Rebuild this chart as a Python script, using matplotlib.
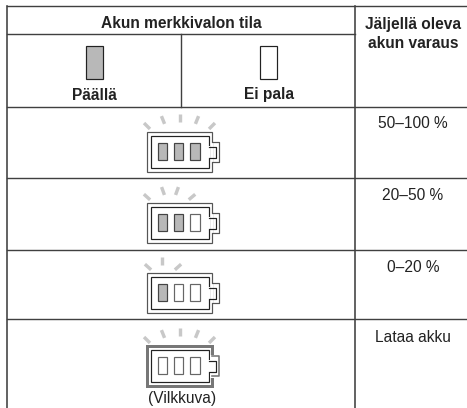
#!/usr/bin/env python3
"""Battery indicator table (Finnish), redrawn in pixel coordinates."""

import math

import matplotlib

matplotlib.use("Agg")
import matplotlib.pyplot as plt
from matplotlib.patches import Rectangle

WIDTH, HEIGHT = 467, 408

plt.rcParams["font.family"] = ["Liberation Sans", "DejaVu Sans"]

header_left = "Akun merkkivalon tila"
header_right = ["Jäljellä oleva", "akun varaus"]
legend_labels = ["Päällä", "Ei pala"]
charge_labels = ["50–100 %", "20–50 %", "0–20 %", "Lataa akku"]
lit_cells = [3, 2, 1, 0]
ray_counts = [5, 4, 3, 5]
blink_note = "(Vilkkuva)"

LINE = "#404040"
DARK = "#222222"
FILL = "#b8b8b8"
RAY = "#c8c8c8"
TEXT = "#222222"
FONT = 11.2
PX = 0.72  # one pixel in points at dpi 100

left, right = 7, 467
col1, col2 = 181, 355
row_lines = [6, 34, 106.5, 178, 250, 319]
battery_tops = [132, 203, 273, 346]
charge_y = [123, 195, 267, 337]
# rays as (x, y above battery top, tilt in degrees)
ray_fans = {
    5: [(147, 6, -45), (163, 12, -22), (180, 14, 0), (197, 12, 22), (212, 6, 45)],
    4: [(147, 6, -48), (163, 12, -20), (177, 12, 20), (192, 6, 50)],
    3: [(148, 6, -48), (162, 12, 0), (178, 6, 48)],
}


def draw_battery(ax, top, lit, rays, blinking):
    x0, x1 = 147, 212
    h = 39.5
    outer_col = "#777777" if blinking else "#555555"
    outer_w = 3 * PX if blinking else 1.2 * PX
    ax.add_patch(Rectangle((x0, top), x1 - x0, h, fc="white", ec=outer_col, lw=outer_w))
    ax.add_patch(Rectangle((x0 + 3.5, top + 4), x1 - x0 - 7, h - 8, fc="white", ec=DARK, lw=1.2 * PX))
    # open both outlines where the terminal sits
    ax.plot([x1, x1], [top + 10.5, top + 29.5], color="white", lw=4 * PX if blinking else 2 * PX)
    ax.plot([x1 - 3.5, x1 - 3.5], [top + 14.5, top + 25.5], color="white", lw=2 * PX)
    ax.plot(
        [x1, x1 + 7, x1 + 7, x1],
        [top + 10, top + 10, top + 30, top + 30],
        color=outer_col, lw=1.6 * PX if blinking else 1.2 * PX,
    )
    ax.plot(
        [x1 - 3.5, x1 + 3.5, x1 + 3.5, x1 - 3.5],
        [top + 14.5, top + 14.5, top + 25.5, top + 25.5],
        color=DARK, lw=1.2 * PX,
    )
    for i in range(3):
        fc = FILL if i < lit else "white"
        ec = "#444444" if i < lit else "#666666"
        ax.add_patch(Rectangle((157.5 + i * 16.3, top + 11), 9.5, 16.5, fc=fc, ec=ec, lw=1.2 * PX))
    half = 4.2
    for x, above, tilt in ray_fans[rays]:
        t = math.radians(tilt)
        dx, dy = half * math.sin(t), half * math.cos(t)
        y = top - above
        ax.plot([x - dx, x + dx], [y + dy, y - dy], color=RAY, lw=3.4 * PX, solid_capstyle="butt")


fig = plt.figure(figsize=(WIDTH / 100, HEIGHT / 100), dpi=100)
ax = fig.add_axes([0, 0, 1, 1])
ax.set_xlim(0, WIDTH)
ax.set_ylim(HEIGHT, 0)
ax.axis("off")

# grid
for y in row_lines:
    x_end = col2 if y == row_lines[1] else right
    ax.plot([left, x_end], [y, y], color=LINE, lw=1.4 * PX)
ax.plot([left, left], [row_lines[0], HEIGHT], color=LINE, lw=1.6 * PX)
ax.plot([col2, col2], [row_lines[0], HEIGHT], color=LINE, lw=1.6 * PX)
ax.plot([col1, col1], [row_lines[1], row_lines[2]], color=LINE, lw=1.4 * PX)

# header
ax.text(181, 24, header_left, ha="center", va="center", fontsize=FONT, fontweight="bold", color=TEXT)
ax.text(413, 24, header_right[0], ha="center", va="center", fontsize=FONT, fontweight="bold", color=TEXT)
ax.text(413, 43, header_right[1], ha="center", va="center", fontsize=FONT, fontweight="bold", color=TEXT)

# legend swatches
for cx, fc, label in zip([94, 268.5], [FILL, "white"], legend_labels):
    ax.add_patch(Rectangle((cx - 8.5, 46), 17, 33, fc=fc, ec=DARK, lw=1.2 * PX))
    ax.text(cx, 95, label, ha="center", va="center", fontsize=FONT, fontweight="bold", color=TEXT)

# battery rows
for i, top in enumerate(battery_tops):
    draw_battery(ax, top, lit_cells[i], ray_counts[i], i == 3)
    ax.text(413, charge_y[i], charge_labels[i], ha="center", va="center", fontsize=FONT, color=TEXT)
ax.text(182, 398.5, blink_note, ha="center", va="center", fontsize=FONT, color=TEXT)

fig.savefig("out.png", dpi=100)
